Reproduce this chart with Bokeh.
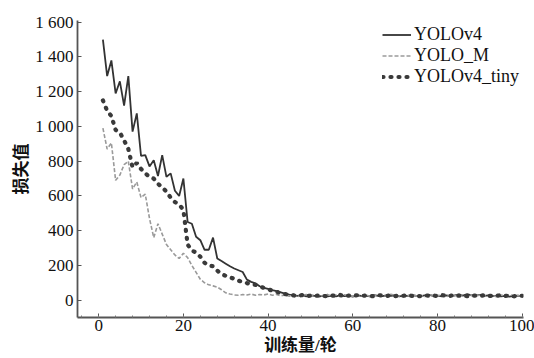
from bokeh.plotting import figure
from bokeh.models import Range1d, FixedTicker
from bokeh.embed import file_html
from bokeh.resources import INLINE

epochs = list(range(1, 101))

yolov4 = [1500, 1290, 1380, 1190, 1260, 1120, 1290, 970, 1075, 830,
          835, 770, 805, 715, 835, 710, 730, 630, 600, 700,
          450, 440, 365, 345, 290, 290, 360, 240, 225, 210,
          195, 182, 172, 162, 118, 105, 97, 80, 70, 65,
          58, 52, 45, 38, 32, 28, 25, 30, 22, 27,
          24, 20, 26, 22, 25, 21, 27, 23, 26, 20,
          28, 24, 26, 22, 29, 25, 23, 27, 24, 28,
          22, 26, 24, 29, 25, 23, 27, 30, 24, 26,
          22, 28, 25, 27, 32, 26, 35, 28, 26, 30,
          24, 27, 23, 26, 22, 25, 20, 24, 26, 22]

yolo_m = [990, 870, 905, 690, 720, 780, 800, 640, 680, 590,
          610, 470, 360, 440, 380, 320, 290, 260, 240, 270,
          245, 200, 160, 120, 100, 88, 82, 75, 60, 42,
          35, 30, 28, 32, 30, 35, 28, 32, 30, 35,
          28, 33, 25, 30, 22, 35, 20, 28, 32, 25,
          30, 22, 27, 33, 24, 29, 20, 31, 26, 22,
          30, 25, 33, 21, 28, 26, 30, 23, 34, 27,
          22, 30, 26, 32, 24, 28, 20, 33, 27, 25,
          31, 18, 29, 24, 33, 26, 22, 30, 25, 28,
          23, 31, 26, 20, 29, 24, 32, 25, 27, 22]

yolov4_tiny = [1150, 1090, 1060, 980, 965, 920, 870, 765, 790, 755,
               730, 710, 700, 670, 650, 625, 590, 565, 550, 520,
               320, 285, 275, 250, 215, 200, 195, 170, 150, 140,
               132, 122, 112, 105, 98, 92, 88, 80, 70, 62,
               55, 48, 40, 35, 30, 27, 24, 29, 22, 26,
               23, 28, 25, 21, 27, 24, 30, 22, 26, 25,
               28, 23, 27, 25, 22, 29, 26, 24, 28, 23,
               27, 25, 30, 24, 26, 22, 28, 25, 27, 23,
               29, 26, 24, 31, 25, 28, 22, 27, 26, 24,
               28, 23, 26, 25, 29, 24, 27, 22, 26, 25]

series_names = ["YOLOv4", "YOLO_M", "YOLOv4_tiny"]
x_ticks = [0, 20, 40, 60, 80, 100]
y_ticks = [0, 200, 400, 600, 800, 1000, 1200, 1400, 1600]
y_tick_labels = ["0", "200", "400", "600", "800", "1 000", "1 200", "1 400", "1 600"]
x_title = "训练量/轮"
y_title = "损失值"

p = figure(width=534, height=358, output_backend="svg", toolbar_location=None,
           x_range=Range1d(-5, 100.3), y_range=Range1d(-100, 1610),
           min_border_left=77, min_border_right=11, min_border_top=20, min_border_bottom=41)
p.outline_line_color = None
p.xgrid.visible = False
p.ygrid.visible = False

p.line(epochs, yolov4, line_color="#333333", line_width=1.8, legend_label=series_names[0])
p.line(epochs, yolo_m, line_color="#9a9a9a", line_width=1.6, line_dash="4 2",
       legend_label=series_names[1])
p.line(epochs, yolov4_tiny, line_color="#3a3a3a", line_width=4.2, line_dash="1 7",
       line_cap="round", legend_label=series_names[2])

serif = "Liberation Serif"
cjk = "Liberation Serif, Noto Sans CJK SC"

for ax in (p.xaxis[0], p.yaxis[0]):
    ax.axis_line_color = "#555555"
    ax.axis_line_width = 1.8
    ax.major_tick_line_color = "#555555"
    ax.minor_tick_line_color = "#777777"
    ax.major_tick_in = 4
    ax.major_tick_out = 0
    ax.minor_tick_in = 2
    ax.minor_tick_out = 0
    ax.major_label_text_font = serif
    ax.major_label_text_font_size = "17px"
    ax.major_label_text_color = "#111111"
    ax.axis_label_text_font = cjk
    ax.axis_label_text_font_size = "17px"
    ax.axis_label_text_font_style = "bold"
    ax.axis_label_text_color = "#111111"

p.xaxis[0].ticker = FixedTicker(ticks=x_ticks, minor_ticks=[v for v in range(-4, 101, 4)])
p.yaxis[0].ticker = FixedTicker(ticks=y_ticks, minor_ticks=[])
p.yaxis[0].major_label_overrides = {t: s for t, s in zip(y_ticks, y_tick_labels)}
p.xaxis[0].major_label_standoff = 2
p.yaxis[0].major_label_standoff = 4
p.xaxis[0].axis_label = x_title
p.yaxis[0].axis_label = y_title
p.xaxis[0].axis_label_standoff = 2
p.yaxis[0].axis_label_standoff = 1

lg = p.legend[0]
lg.location = "top_right"
lg.border_line_alpha = 0
lg.background_fill_alpha = 0
lg.label_text_font = serif
lg.label_text_font_size = "18px"
lg.label_text_color = "#111111"
lg.glyph_width = 29
lg.glyph_height = 19
lg.label_height = 19
lg.label_standoff = 3
lg.spacing = 0
lg.padding = 0
lg.margin = 4

open("out.html", "w").write(file_html(p, INLINE))
